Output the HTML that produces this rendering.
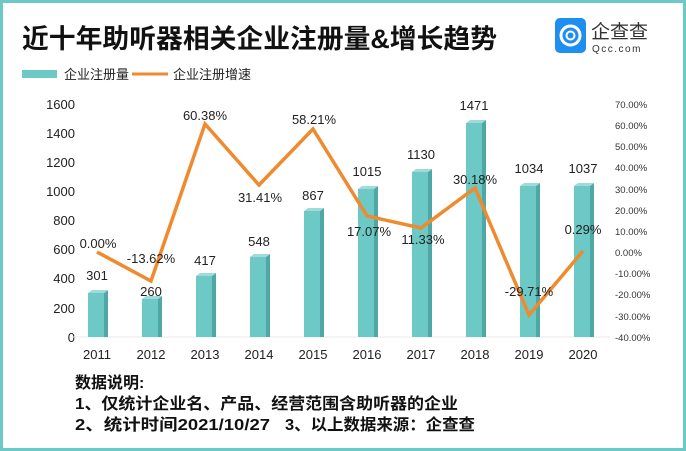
<!DOCTYPE html>
<html><head><meta charset="utf-8"><style>
html,body{margin:0;padding:0;background:#fff}
svg{display:block}
text{font-family:"Liberation Sans","Noto Sans CJK SC",sans-serif}
</style></head><body>
<svg width="686" height="451" viewBox="0 0 686 451" xmlns="http://www.w3.org/2000/svg">
<rect x="1.5" y="1.5" width="683" height="448" fill="#fff" stroke="#6cc9c6" stroke-width="3"/>
<text x="22" y="48" font-size="26.5" font-weight="bold" fill="#111" font-family="'Noto Sans CJK SC',sans-serif" textLength="475" lengthAdjust="spacingAndGlyphs">近十年助听器相关企业注册量&amp;增长趋势</text>
<rect x="555" y="18" width="31" height="35" rx="5" fill="#1e8ff0"/>
<circle cx="570.5" cy="35.5" r="9.5" fill="none" stroke="#fff" stroke-width="3"/>
<circle cx="570.5" cy="35.5" r="4" fill="none" stroke="#fff" stroke-width="2"/>
<text x="591" y="38" font-size="19" fill="#333" font-family="'Noto Sans CJK SC',sans-serif">企查查</text>
<text x="592" y="52" font-size="10" fill="#333" letter-spacing="1.5">Qcc.com</text>
<rect x="22" y="70" width="35" height="8" fill="#6cc9c6"/>
<text x="64" y="79" font-size="13" fill="#222" font-family="'Noto Sans CJK SC',sans-serif">企业注册量</text>
<line x1="132" y1="74" x2="168" y2="74" stroke="#f08a2e" stroke-width="3"/>
<text x="173" y="79" font-size="13" fill="#222" font-family="'Noto Sans CJK SC',sans-serif">企业注册增速</text>
<g font-size="13" fill="#222" text-anchor="end">
<text x="75" y="109">1600</text><text x="75" y="138">1400</text><text x="75" y="167">1200</text><text x="75" y="196">1000</text><text x="75" y="225">800</text><text x="75" y="254">600</text><text x="75" y="283">400</text><text x="75" y="313">200</text><text x="75" y="342">0</text>
</g>
<g font-size="9.5" fill="#333">
<text x="615" y="108">70.00%</text><text x="615" y="129">60.00%</text><text x="615" y="150">50.00%</text><text x="615" y="171">40.00%</text><text x="615" y="193">30.00%</text><text x="615" y="214">20.00%</text><text x="615" y="235">10.00%</text><text x="615" y="256">0.00%</text><text x="615" y="277">-10.00%</text><text x="615" y="298">-20.00%</text><text x="615" y="320">-30.00%</text><text x="615" y="341">-40.00%</text>
</g>
<line x1="72" y1="337" x2="610" y2="337" stroke="#e8e8e8"/>
<g fill="#6cc9c6">
<rect x="88" y="293" width="16" height="44"/><rect x="142" y="299" width="16" height="38"/><rect x="196" y="276" width="16" height="61"/><rect x="250" y="257" width="16" height="80"/><rect x="304" y="211" width="16" height="126"/><rect x="358" y="189" width="16" height="148"/><rect x="412" y="172" width="16" height="165"/><rect x="466" y="123" width="16" height="214"/><rect x="520" y="186" width="16" height="151"/><rect x="574" y="186" width="16" height="151"/>
</g>
<g fill="#4fa8a5">
<polygon points="104,293 108,290 108,337 104,337"/><polygon points="158,299 162,296 162,337 158,337"/><polygon points="212,276 216,273 216,337 212,337"/><polygon points="266,257 270,254 270,337 266,337"/><polygon points="320,211 324,208 324,337 320,337"/><polygon points="374,189 378,186 378,337 374,337"/><polygon points="428,172 432,169 432,337 428,337"/><polygon points="482,123 486,120 486,337 482,337"/><polygon points="536,186 540,183 540,337 536,337"/><polygon points="590,186 594,183 594,337 590,337"/>
</g>
<g fill="#9edbd9">
<polygon points="88,293 92,290 108,290 104,293"/><polygon points="142,299 146,296 162,296 158,299"/><polygon points="196,276 200,273 216,273 212,276"/><polygon points="250,257 254,254 270,254 266,257"/><polygon points="304,211 308,208 324,208 320,211"/><polygon points="358,189 362,186 378,186 374,189"/><polygon points="412,172 416,169 432,169 428,172"/><polygon points="466,123 470,120 486,120 482,123"/><polygon points="520,186 524,183 540,183 536,186"/><polygon points="574,186 578,183 594,183 590,186"/>
</g>
<polyline points="97,252 151,281 205,124 259,185 313,129 367,216 421,228 475,188 529,315 583,251" fill="none" stroke="#f08a2e" stroke-width="3.5" stroke-linejoin="miter"/>
<g font-size="13" fill="#222" text-anchor="middle">
<text x="97" y="280">301</text><text x="151" y="296">260</text><text x="205" y="265">417</text><text x="259" y="246">548</text><text x="313" y="200">867</text><text x="367" y="176">1015</text><text x="421" y="159">1130</text><text x="474" y="110">1471</text><text x="529" y="173">1034</text><text x="583" y="173">1037</text>
<text x="98" y="248">0.00%</text><text x="151" y="263">-13.62%</text><text x="205" y="120">60.38%</text><text x="260" y="202">31.41%</text><text x="314" y="124">58.21%</text><text x="369" y="236">17.07%</text><text x="423" y="244">11.33%</text><text x="475" y="184">30.18%</text><text x="529" y="296">-29.71%</text><text x="583" y="234">0.29%</text>
</g>
<g font-size="13" fill="#222" text-anchor="middle">
<text x="97" y="359">2011</text><text x="151" y="359">2012</text><text x="205" y="359">2013</text><text x="259" y="359">2014</text><text x="313" y="359">2015</text><text x="367" y="359">2016</text><text x="421" y="359">2017</text><text x="475" y="359">2018</text><text x="529" y="359">2019</text><text x="583" y="359">2020</text>
</g>
<g font-size="16" font-weight="bold" fill="#111" font-family="'Noto Sans CJK SC',sans-serif">
<text x="75" y="388">数据说明:</text>
<text x="75" y="409" textLength="383" lengthAdjust="spacingAndGlyphs">1、仅统计企业名、产品、经营范围含助听器的企业</text>
<text x="75" y="430" textLength="195" lengthAdjust="spacingAndGlyphs">2、统计时间2021/10/27</text>
<text x="285" y="430" textLength="190" lengthAdjust="spacingAndGlyphs">3、以上数据来源：企查查</text>
</g>
</svg>
</body></html>
